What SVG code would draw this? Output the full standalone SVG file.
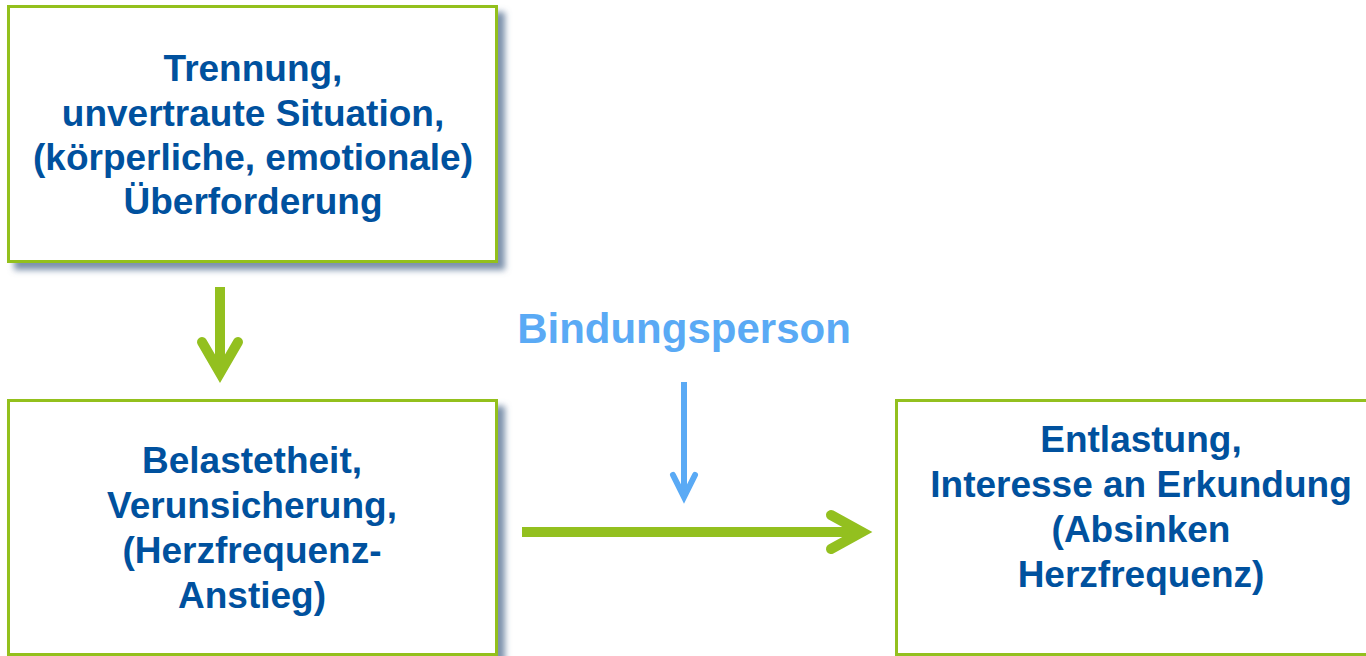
<svg xmlns="http://www.w3.org/2000/svg" width="1366" height="656" viewBox="0 0 1366 656">
<defs>
<filter id="sh" x="-10%" y="-10%" width="125%" height="130%">
<feGaussianBlur in="SourceAlpha" stdDeviation="3"/>
<feOffset dx="7" dy="7" result="b"/>
<feFlood flood-color="#6f86a3" flood-opacity="0.9"/>
<feComposite in2="b" operator="in"/>
<feMerge><feMergeNode/><feMergeNode in="SourceGraphic"/></feMerge>
</filter>
</defs>
<style>
.box{fill:#ffffff;stroke:#93c01f;stroke-width:3}
.t{font-family:"Liberation Sans",Arial,sans-serif;font-weight:bold;font-size:37px;fill:#00519e;text-anchor:middle}
.lbl{font-family:"Liberation Sans",Arial,sans-serif;font-weight:bold;font-size:42px;fill:#5aaaf5;text-anchor:middle}
.ga{fill:none;stroke:#93c01f;stroke-width:10;stroke-linecap:round;stroke-linejoin:miter}
.ba{fill:none;stroke:#5aaaf5;stroke-width:6;stroke-linecap:round;stroke-linejoin:miter}
</style>
<rect width="1366" height="656" fill="#ffffff"/>
<g id="node-trennung">
<rect class="box" x="8.5" y="6.5" width="488" height="255" filter="url(#sh)"/>
<text class="t" x="253" y="81">Trennung,</text>
<text class="t" x="253" y="126">unvertraute Situation,</text>
<text class="t" x="253" y="170">(körperliche, emotionale)</text>
<text class="t" x="253" y="214">Überforderung</text>
</g>
<g id="node-belastetheit">
<rect class="box" x="8.5" y="400.5" width="488" height="254" filter="url(#sh)"/>
<text class="t" x="252" y="473">Belastetheit,</text>
<text class="t" x="252" y="518">Verunsicherung,</text>
<text class="t" x="252" y="563">(Herzfrequenz-</text>
<text class="t" x="252" y="608">Anstieg)</text>
</g>
<g id="node-entlastung">
<rect class="box" x="896.5" y="400.5" width="480" height="254"/>
<text class="t" x="1141" y="452">Entlastung,</text>
<text class="t" x="1141" y="497">Interesse an Erkundung</text>
<text class="t" x="1141" y="542">(Absinken</text>
<text class="t" x="1141" y="587">Herzfrequenz)</text>
</g>
<g id="label-bindungsperson">
<text class="lbl" x="684" y="343">Bindungsperson</text>
</g>
<g id="connectors">
<line x1="220" y1="287" x2="220" y2="368" stroke="#93c01f" stroke-width="10"/>
<polyline class="ga" points="202,342 220,373 238,342"/>
<line x1="684" y1="382" x2="684" y2="494" stroke="#5aaaf5" stroke-width="6"/>
<polyline class="ba" points="673,475 684,497 695,475"/>
<line x1="522" y1="532" x2="858" y2="532" stroke="#93c01f" stroke-width="10"/>
<polyline class="ga" points="831,515 862,532 831,549"/>
</g>
</svg>
